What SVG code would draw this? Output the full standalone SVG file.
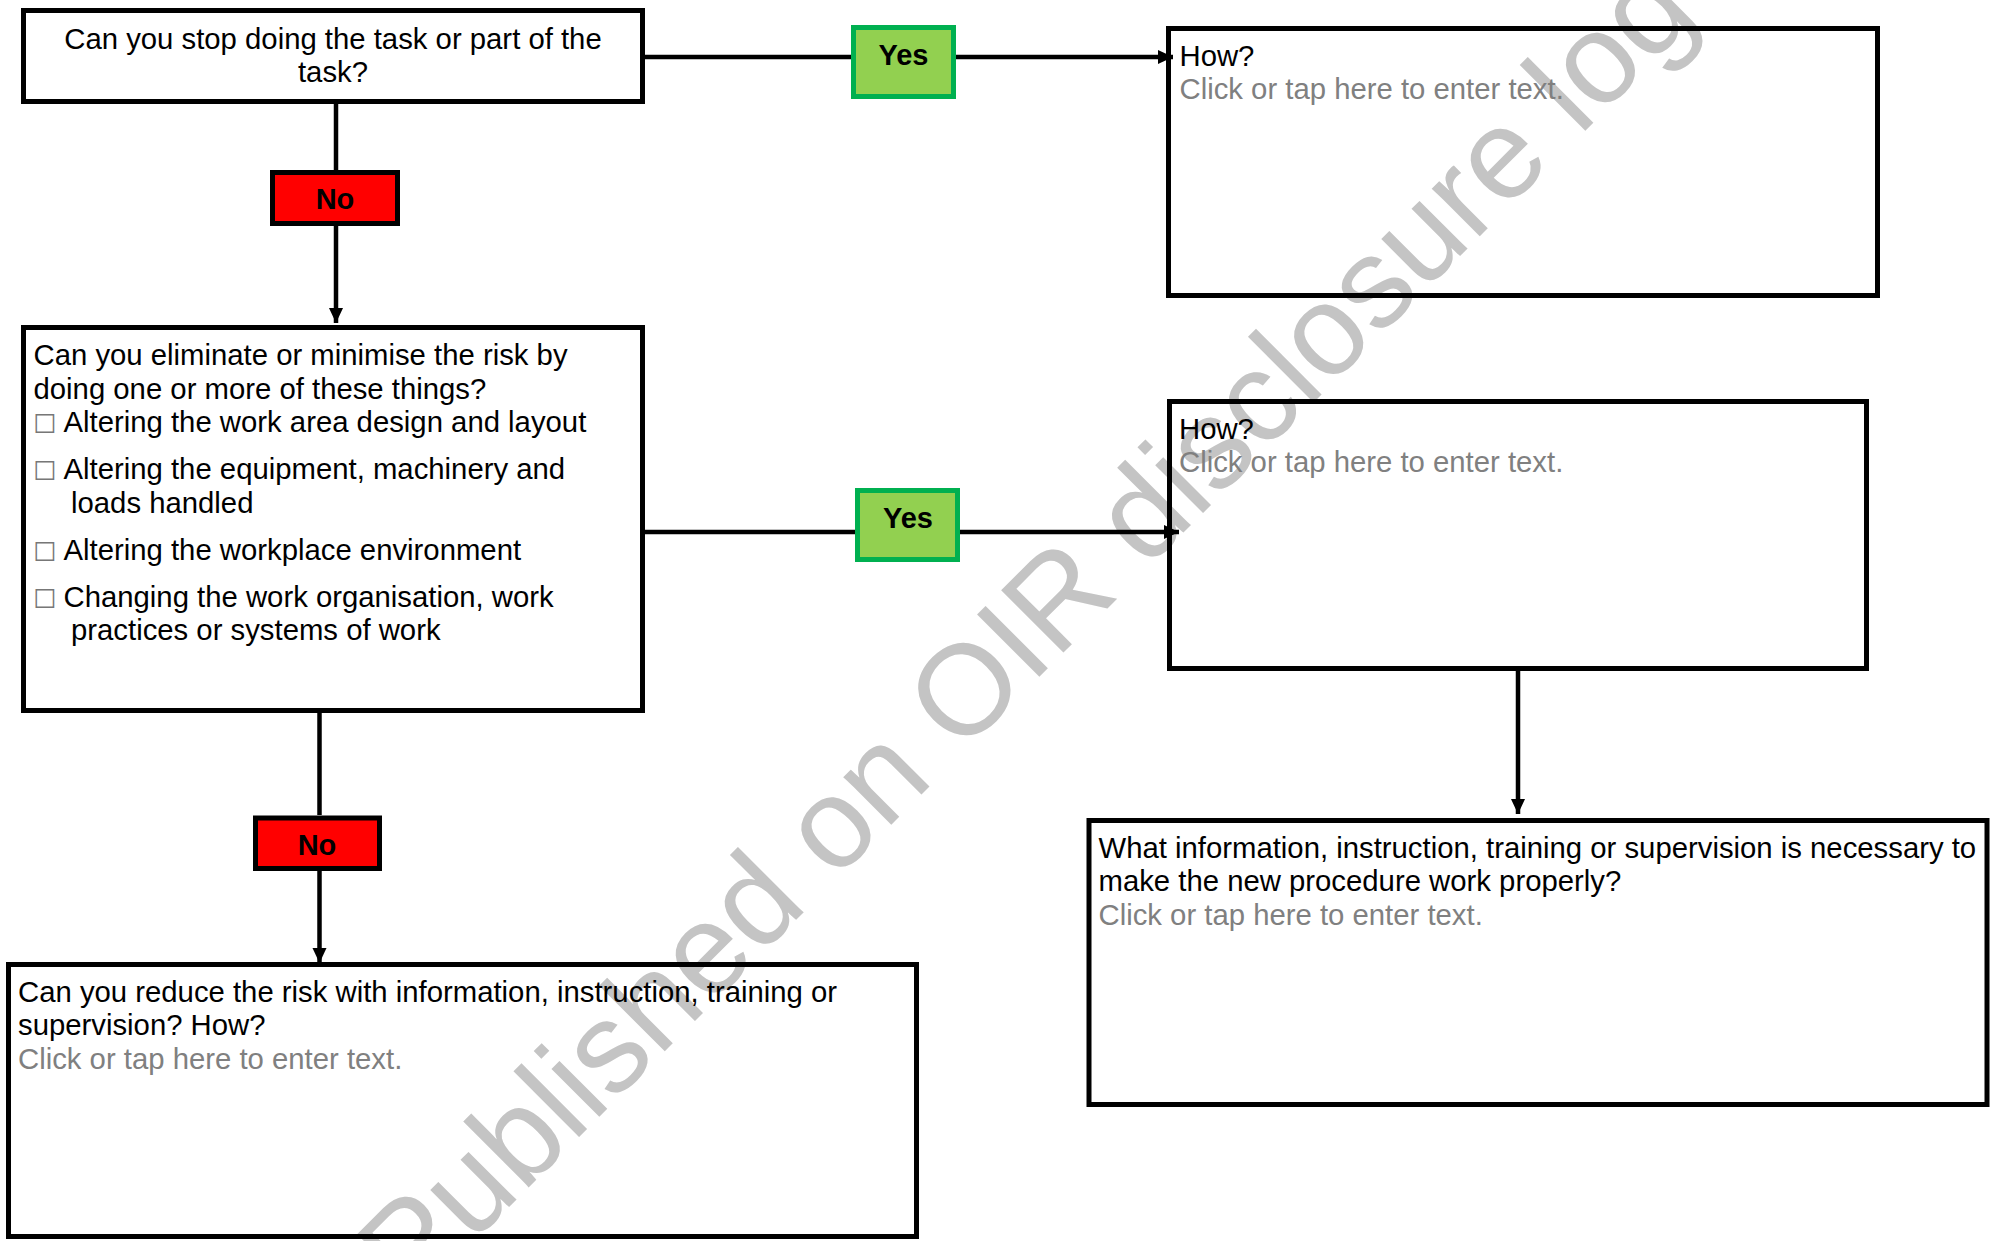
<svg xmlns="http://www.w3.org/2000/svg" width="1991" height="1241" viewBox="0 0 1991 1241">
<style>
text{font-family:"Liberation Sans",Arial,sans-serif;font-size:29.3px;fill:#000}
.box{fill:none;stroke:#000;stroke-width:5}
.no{fill:#FF0000;stroke:#000;stroke-width:5}
.yes{fill:#92D050;stroke:#00B050;stroke-width:5}
.lbl{font-weight:bold;font-size:29px;text-anchor:middle}
.ph{fill:#808080}
.cb{font-family:"DejaVu Sans",sans-serif;font-size:26px;fill:#777}
.wm{font-size:128px;fill:#c4c4c4}
.ln{stroke:#000;stroke-width:4.5;fill:none}
.ar{stroke:#000;stroke-width:4.5;fill:none;marker-end:url(#ah)}
</style>
<defs>
<marker id="ah" markerUnits="userSpaceOnUse" markerWidth="16" markerHeight="16" viewBox="0 0 16 16" refX="15" refY="8" orient="auto">
<path d="M0,1 L15,8 L0,15 Z" fill="#000"/>
</marker>
</defs>
<rect width="1991" height="1241" fill="#fff"/>
<g id="watermark">
<text class="wm" transform="translate(412,1304) rotate(-45)">Published on OIR disclosure log</text>
</g>
<g id="connectors">
<line class="ln" x1="336" y1="104" x2="336" y2="170"/>
<line class="ar" x1="336" y1="226" x2="336" y2="323"/>
<line class="ln" x1="645" y1="57" x2="851" y2="57"/>
<line class="ar" x1="956" y1="57" x2="1173" y2="57"/>
<line class="ln" x1="645" y1="532" x2="855" y2="532"/>
<line class="ar" x1="960" y1="532" x2="1179" y2="532"/>
<line class="ar" x1="1518" y1="671" x2="1518" y2="814"/>
<line class="ln" x1="319.5" y1="713" x2="319.5" y2="815"/>
<line class="ar" x1="319.5" y1="871" x2="319.5" y2="963"/>
</g>
<g id="q1">
<rect class="box" x="23.5" y="10.5" width="619" height="91"/>
<text x="333" y="49" text-anchor="middle">Can you stop doing the task or part of the</text>
<text x="333" y="82" text-anchor="middle">task?</text>
</g>
<g id="no1">
<rect class="no" x="272.5" y="172.5" width="125" height="51"/>
<text class="lbl" x="335" y="209">No</text>
</g>
<g id="yes1">
<rect class="yes" x="853.5" y="27.5" width="100" height="69"/>
<text class="lbl" x="903.5" y="65">Yes</text>
</g>
<g id="how1">
<rect class="box" x="1168.5" y="28.5" width="709" height="267"/>
<text x="1179.5" y="65.5">How?</text>
<text class="ph" x="1179.5" y="99">Click or tap here to enter text.</text>
</g>
<g id="q2">
<rect class="box" x="23.5" y="327.5" width="619" height="383"/>
<text x="33.5" y="365">Can you eliminate or minimise the risk by</text>
<text x="33.5" y="398.5">doing one or more of these things?</text>
<text class="cb" x="33" y="433">☐</text>
<text x="63.5" y="432">Altering the work area design and layout</text>
<text class="cb" x="33" y="480">☐</text>
<text x="63.5" y="479">Altering the equipment, machinery and</text>
<text x="71" y="512.5">loads handled</text>
<text class="cb" x="33" y="560.5">☐</text>
<text x="63.5" y="559.5">Altering the workplace environment</text>
<text class="cb" x="33" y="607.5">☐</text>
<text x="63.5" y="606.5">Changing the work organisation, work</text>
<text x="71" y="640">practices or systems of work</text>
</g>
<g id="yes2">
<rect class="yes" x="857.5" y="490.5" width="100" height="69"/>
<text class="lbl" x="908" y="528">Yes</text>
</g>
<g id="how2">
<rect class="box" x="1169.5" y="401.5" width="697" height="267"/>
<text x="1179" y="439">How?</text>
<text class="ph" x="1179" y="472">Click or tap here to enter text.</text>
</g>
<g id="info">
<rect class="box" x="1089" y="820.5" width="898" height="284"/>
<text x="1098.5" y="857.5">What information, instruction, training or supervision is necessary to</text>
<text x="1098.5" y="891">make the new procedure work properly?</text>
<text class="ph" x="1098.5" y="924.5">Click or tap here to enter text.</text>
</g>
<g id="no2">
<rect class="no" x="255.5" y="818" width="124" height="50.5"/>
<text class="lbl" x="317" y="855">No</text>
</g>
<g id="q3">
<rect class="box" x="8.5" y="964.5" width="908" height="272"/>
<text x="18" y="1001.5">Can you reduce the risk with information, instruction, training or</text>
<text x="18" y="1035">supervision? How?</text>
<text class="ph" x="18" y="1068.5">Click or tap here to enter text.</text>
</g>
</svg>
